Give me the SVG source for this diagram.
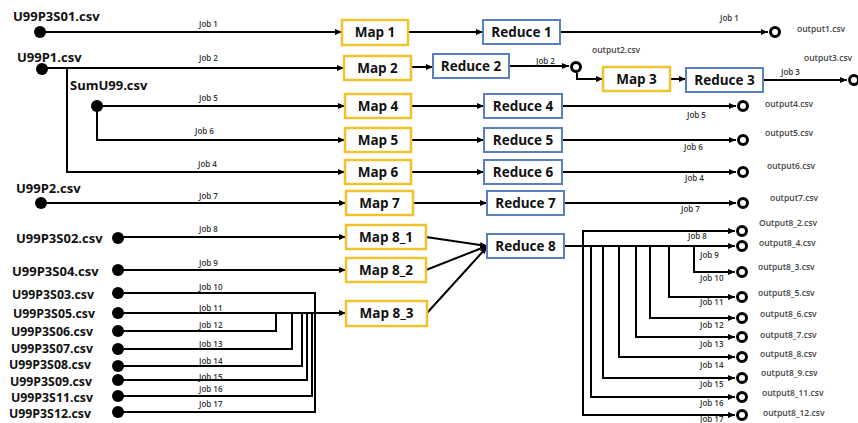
<svg xmlns="http://www.w3.org/2000/svg" width="858" height="423" viewBox="0 0 858 423">
<style>
.ln{stroke:#000;stroke-width:2;fill:none}
.map{fill:#fff;stroke:#f0c22e;stroke-width:2.5}
.red{fill:#fff;stroke:#5a80c0;stroke-width:2}
.bt{font-family:"Open Sans","Liberation Sans",sans-serif;font-weight:700;font-size:13.5px;text-anchor:middle;fill:#111}
.src{font-family:"Open Sans","Liberation Sans",sans-serif;font-weight:700;font-size:13px;fill:#111}
.srcs{font-family:"Open Sans","Liberation Sans",sans-serif;font-weight:700;font-size:12.3px;fill:#111}
.job{font-family:"Open Sans","Liberation Sans",sans-serif;font-weight:600;font-size:8px;fill:#333}
.out{font-family:"Open Sans","Liberation Sans",sans-serif;font-weight:600;font-size:8.5px;fill:#444}
.dot{fill:#000}
.ring{fill:#fff;stroke:#000;stroke-width:3}
</style>
<defs>
<marker id="a" markerWidth="7" markerHeight="6" refX="7" refY="3" orient="auto" markerUnits="userSpaceOnUse"><path d="M0,0 L7,3 L0,6 z" fill="#000"/></marker>
</defs>

<g id="connectors">
<path class="ln" marker-end="url(#a)" d="M40 32 H342"/>
<path class="ln" marker-end="url(#a)" d="M408 32 H483"/>
<path class="ln" marker-end="url(#a)" d="M560 32 H768"/>
<path class="ln" marker-end="url(#a)" d="M42 68 H344"/>
<path class="ln" marker-end="url(#a)" d="M411 67 H433"/>
<path class="ln" marker-end="url(#a)" d="M509 66 H569"/>
<path class="ln" marker-end="url(#a)" d="M577 73 V79 H603"/>
<path class="ln" marker-end="url(#a)" d="M670 79 H686"/>
<path class="ln" marker-end="url(#a)" d="M763 80 H847"/>
<path class="ln" marker-end="url(#a)" d="M97 106 H345"/>
<path class="ln" marker-end="url(#a)" d="M411 106 H484"/>
<path class="ln" marker-end="url(#a)" d="M562 106 H736"/>
<path class="ln" marker-end="url(#a)" d="M97 106 V140 H345"/>
<path class="ln" marker-end="url(#a)" d="M411 140 H484"/>
<path class="ln" marker-end="url(#a)" d="M562 140 H736"/>
<path class="ln" marker-end="url(#a)" d="M67 68 V172 H345"/>
<path class="ln" marker-end="url(#a)" d="M411 172 H484"/>
<path class="ln" marker-end="url(#a)" d="M562 172 H736"/>
<path class="ln" marker-end="url(#a)" d="M41 203 H346"/>
<path class="ln" marker-end="url(#a)" d="M413 203 H487"/>
<path class="ln" marker-end="url(#a)" d="M564 203 H736"/>
<path class="ln" marker-end="url(#a)" d="M118 237 H346"/>
<path class="ln" marker-end="url(#a)" d="M118 270 H346"/>
<path class="ln" marker-end="url(#a)" d="M426 237 L487 246"/>
<path class="ln" marker-end="url(#a)" d="M426 270 L487 246"/>
<path class="ln" marker-end="url(#a)" d="M427 313 L487 247"/>
<path class="ln" d="M118 293 H315 V313"/>
<path class="ln" marker-end="url(#a)" d="M118 313 H346"/>
<path class="ln" d="M118 331 H276 V313"/>
<path class="ln" d="M118 349 H292 V313"/>
<path class="ln" d="M118 366 H302 V313"/>
<path class="ln" d="M118 380 H307 V313"/>
<path class="ln" d="M118 396 H312 V313"/>
<path class="ln" d="M118 412 H315 V313"/>
<path class="ln" marker-end="url(#a)" d="M564 246 H735"/>
<path class="ln" marker-end="url(#a)" d="M583 415 V231 H735"/>
<path class="ln" marker-end="url(#a)" d="M583 231 V415 H735"/>
<path class="ln" marker-end="url(#a)" d="M591 246 V397 H735"/>
<path class="ln" marker-end="url(#a)" d="M603 246 V378 H735"/>
<path class="ln" marker-end="url(#a)" d="M619 246 V357 H735"/>
<path class="ln" marker-end="url(#a)" d="M636 246 V337 H735"/>
<path class="ln" marker-end="url(#a)" d="M650 246 V318 H735"/>
<path class="ln" marker-end="url(#a)" d="M669 246 V297 H735"/>
<path class="ln" marker-end="url(#a)" d="M694 246 V272 H735"/>
</g>

<g id="job-labels">
<text class="job" x="199" y="27">Job 1</text>
<text class="job" x="199" y="61">Job 2</text>
<text class="job" x="199" y="101">Job 5</text>
<text class="job" x="195" y="134">Job 6</text>
<text class="job" x="198" y="167">Job 4</text>
<text class="job" x="199" y="199">Job 7</text>
<text class="job" x="199" y="232">Job 8</text>
<text class="job" x="199" y="266">Job 9</text>
<text class="job" x="199" y="290">Job 10</text>
<text class="job" x="199" y="311">Job 11</text>
<text class="job" x="199" y="328">Job 12</text>
<text class="job" x="199" y="347">Job 13</text>
<text class="job" x="199" y="364">Job 14</text>
<text class="job" x="199" y="380">Job 15</text>
<text class="job" x="199" y="392">Job 16</text>
<text class="job" x="199" y="407">Job 17</text>
<text class="job" x="720" y="21">Job 1</text>
<text class="job" x="536" y="64">Job 2</text>
<text class="job" x="781" y="75">Job 3</text>
<text class="job" x="687" y="118">Job 5</text>
<text class="job" x="684" y="150">Job 6</text>
<text class="job" x="685" y="181">Job 4</text>
<text class="job" x="681" y="212">Job 7</text>
<text class="job" x="688" y="239">Job 8</text>
<text class="job" x="700" y="258">Job 9</text>
<text class="job" x="700" y="281">Job 10</text>
<text class="job" x="700" y="305">Job 11</text>
<text class="job" x="700" y="328">Job 12</text>
<text class="job" x="700" y="347">Job 13</text>
<text class="job" x="700" y="368">Job 14</text>
<text class="job" x="700" y="387">Job 15</text>
<text class="job" x="700" y="406">Job 16</text>
<text class="job" x="700" y="422">Job 17</text>
</g>

<g id="src-U99P3S01"><circle class="dot" cx="40" cy="32" r="6"/><text class="src" x="13" y="21">U99P3S01.csv</text></g>
<g id="src-U99P1"><circle class="dot" cx="42" cy="69" r="6"/><text class="src" x="17" y="62">U99P1.csv</text></g>
<g id="src-SumU99"><circle class="dot" cx="97" cy="106" r="6"/><text class="src" x="70" y="90">SumU99.csv</text></g>
<g id="src-U99P2"><circle class="dot" cx="41" cy="203" r="6"/><text class="src" x="16" y="193">U99P2.csv</text></g>
<g id="src-U99P3S02"><circle class="dot" cx="118" cy="238" r="6"/><text class="src" x="16" y="243">U99P3S02.csv</text></g>
<g id="src-U99P3S04"><circle class="dot" cx="118" cy="270" r="6"/><text class="src" x="12" y="276">U99P3S04.csv</text></g>
<g id="src-U99P3S03"><circle class="dot" cx="118" cy="293" r="6"/><text class="srcs" x="12" y="299">U99P3S03.csv</text></g>
<g id="src-U99P3S05"><circle class="dot" cx="118" cy="313" r="6"/><text class="srcs" x="13" y="318">U99P3S05.csv</text></g>
<g id="src-U99P3S06"><circle class="dot" cx="118" cy="331" r="6"/><text class="srcs" x="11" y="335.5">U99P3S06.csv</text></g>
<g id="src-U99P3S07"><circle class="dot" cx="118" cy="349" r="6"/><text class="srcs" x="11" y="352.5">U99P3S07.csv</text></g>
<g id="src-U99P3S08"><circle class="dot" cx="118" cy="366" r="6"/><text class="srcs" x="9" y="369">U99P3S08.csv</text></g>
<g id="src-U99P3S09"><circle class="dot" cx="118" cy="380" r="6"/><text class="srcs" x="10" y="385.5">U99P3S09.csv</text></g>
<g id="src-U99P3S11"><circle class="dot" cx="118" cy="396" r="6"/><text class="srcs" x="11" y="401.5">U99P3S11.csv</text></g>
<g id="src-U99P3S12"><circle class="dot" cx="118" cy="412" r="6"/><text class="srcs" x="9" y="417.5">U99P3S12.csv</text></g>

<g id="map1"><rect class="map" x="342" y="20" width="66" height="25"/><text class="bt" x="375" y="37">Map 1</text></g>
<g id="map2"><rect class="map" x="344" y="56" width="67" height="24"/><text class="bt" x="377.5" y="73">Map 2</text></g>
<g id="map3"><rect class="map" x="603" y="67" width="67" height="24"/><text class="bt" x="636.5" y="84">Map 3</text></g>
<g id="map4"><rect class="map" x="345" y="94" width="66" height="24"/><text class="bt" x="378" y="111">Map 4</text></g>
<g id="map5"><rect class="map" x="345" y="128" width="66" height="24"/><text class="bt" x="378" y="145">Map 5</text></g>
<g id="map6"><rect class="map" x="345" y="160" width="66" height="24"/><text class="bt" x="378" y="177">Map 6</text></g>
<g id="map7"><rect class="map" x="346" y="191" width="67" height="24"/><text class="bt" x="379.5" y="208">Map 7</text></g>
<g id="map8_1"><rect class="map" x="346" y="225" width="80" height="24"/><text class="bt" x="386" y="242">Map 8_1</text></g>
<g id="map8_2"><rect class="map" x="346" y="258" width="80" height="24"/><text class="bt" x="386" y="275">Map 8_2</text></g>
<g id="map8_3"><rect class="map" x="346" y="301" width="81" height="25"/><text class="bt" x="386.5" y="318">Map 8_3</text></g>

<g id="reduce1"><rect class="red" x="483" y="20" width="77" height="24"/><text class="bt" x="521.5" y="37">Reduce 1</text></g>
<g id="reduce2"><rect class="red" x="433" y="54" width="76" height="24"/><text class="bt" x="471" y="71">Reduce 2</text></g>
<g id="reduce3"><rect class="red" x="686" y="68" width="77" height="24"/><text class="bt" x="724.5" y="85">Reduce 3</text></g>
<g id="reduce4"><rect class="red" x="484" y="94" width="78" height="24"/><text class="bt" x="523" y="111">Reduce 4</text></g>
<g id="reduce5"><rect class="red" x="484" y="128" width="78" height="24"/><text class="bt" x="523" y="145">Reduce 5</text></g>
<g id="reduce6"><rect class="red" x="484" y="160" width="78" height="24"/><text class="bt" x="523" y="177">Reduce 6</text></g>
<g id="reduce7"><rect class="red" x="487" y="191" width="77" height="24"/><text class="bt" x="525.5" y="208">Reduce 7</text></g>
<g id="reduce8"><rect class="red" x="487" y="234" width="77" height="24"/><text class="bt" x="525.5" y="251">Reduce 8</text></g>

<g id="out1"><circle class="ring" cx="775" cy="32" r="4.5"/><text class="out" x="797" y="32">output1.csv</text></g>
<g id="out2"><circle class="ring" cx="576" cy="67" r="4.5"/><text class="out" x="592" y="53">output2.csv</text></g>
<g id="out3"><circle class="ring" cx="854" cy="80" r="4.5"/><text class="out" x="804" y="61">output3.csv</text></g>
<g id="out4"><circle class="ring" cx="743" cy="106" r="4.5"/><text class="out" x="765" y="107">output4.csv</text></g>
<g id="out5"><circle class="ring" cx="743" cy="140" r="4.5"/><text class="out" x="765" y="136">output5.csv</text></g>
<g id="out6"><circle class="ring" cx="743" cy="172" r="4.5"/><text class="out" x="767" y="169">output6.csv</text></g>
<g id="out7"><circle class="ring" cx="743" cy="203" r="4.5"/><text class="out" x="770" y="201">output7.csv</text></g>
<g id="out8_2"><circle class="ring" cx="742" cy="231" r="4.5"/><text class="out" x="759" y="226">Output8_2.csv</text></g>
<g id="out8_4"><circle class="ring" cx="742" cy="246" r="4.5"/><text class="out" x="759" y="246">output8_4.csv</text></g>
<g id="out8_3"><circle class="ring" cx="742" cy="272" r="4.5"/><text class="out" x="758" y="270">output8_3.csv</text></g>
<g id="out8_5"><circle class="ring" cx="742" cy="297" r="4.5"/><text class="out" x="758" y="296">output8_5.csv</text></g>
<g id="out8_6"><circle class="ring" cx="742" cy="318" r="4.5"/><text class="out" x="760" y="317">output8_6.csv</text></g>
<g id="out8_7"><circle class="ring" cx="742" cy="337" r="4.5"/><text class="out" x="760" y="338">output8_7.csv</text></g>
<g id="out8_8"><circle class="ring" cx="742" cy="357" r="4.5"/><text class="out" x="760" y="357">output8_8.csv</text></g>
<g id="out8_9"><circle class="ring" cx="742" cy="378" r="4.5"/><text class="out" x="761" y="376">output8_9.csv</text></g>
<g id="out8_11"><circle class="ring" cx="742" cy="397" r="4.5"/><text class="out" x="762" y="396">output8_11.csv</text></g>
<g id="out8_12"><circle class="ring" cx="742" cy="415" r="4.5"/><text class="out" x="763" y="416">output8_12.csv</text></g>
</svg>
